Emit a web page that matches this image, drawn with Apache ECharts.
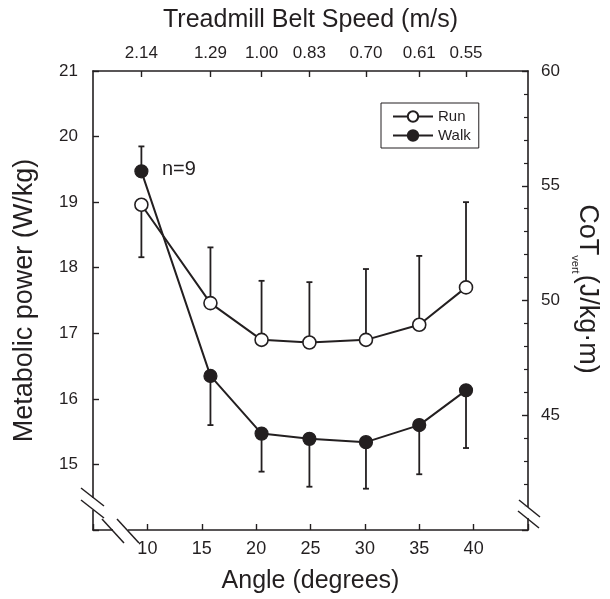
<!DOCTYPE html>
<html><head><meta charset="utf-8">
<script src="https://cdn.jsdelivr.net/npm/echarts@6/dist/echarts.min.js"></script>
<style>html,body{margin:0;padding:0;background:#fff}#c{width:610px;height:599px}</style>
</head><body><div id="c"></div>
<script>
const angles = [9.45, 15.8, 20.5, 24.9, 30.1, 35.0, 39.3];
const speedLabels = ['2.14','1.29','1.00','0.83','0.70','0.61','0.55'];
const runPower = [18.96, 17.46, 16.90, 16.86, 16.90, 17.13, 17.70];
const runSD = [0.80, 0.85, 0.90, 0.92, 1.08, 1.05, 1.30];
const runErrDir = [-1, 1, 1, 1, 1, 1, 1];
const walkPower = [19.47, 16.35, 15.47, 15.39, 15.34, 15.60, 16.13];
const walkSD = [0.38, 0.75, 0.58, 0.73, 0.71, 0.75, 0.88];
const walkErrDir = [1, -1, -1, -1, -1, -1, -1];
const bottomTicks = [10, 15, 20, 25, 30, 35, 40];
const leftTicks = [15, 16, 17, 18, 19, 20, 21];
const rightTicks = [45, 50, 55, 60];

const INK = '#231f20';
const FONT = '"Liberation Sans", Arial, sans-serif';

function errData(xs, ys, sd, dir) {
  return xs.map((x, i) => [x, ys[i], sd[i], dir[i]]);
}
function errRender(params, api) {
  const x = api.value(0), y = api.value(1), sd = api.value(2), d = api.value(3);
  const p0 = api.coord([x, y]);
  const p1 = api.coord([x, y + d * sd]);
  const cap = 3;
  return {
    type: 'group',
    children: [
      { type: 'line', shape: { x1: p0[0], y1: p0[1], x2: p1[0], y2: p1[1] }, style: { stroke: INK, lineWidth: 1.8 } },
      { type: 'line', shape: { x1: p1[0] - cap, y1: p1[1], x2: p1[0] + cap, y2: p1[1] }, style: { stroke: INK, lineWidth: 1.8 } }
    ]
  };
}
const near = (arr, v) => arr.findIndex(a => Math.abs(a - v) < 1e-6);

const chart = echarts.init(document.getElementById('c'), null, { renderer: 'canvas' });
chart.setOption({
  backgroundColor: '#fff',
  animation: false,
  textStyle: { fontFamily: FONT, color: INK },
  grid: { left: 93, right: 82, top: 71, bottom: 68 },
  legend: {
    data: ['Run', 'Walk'], orient: 'vertical', left: 381, top: 103,
    borderColor: INK, borderWidth: 1, padding: [6, 8, 5, 11],
    itemWidth: 40, itemHeight: 13, itemGap: 4,
    textStyle: { fontSize: 15, color: INK, fontFamily: FONT }
  },
  xAxis: [{
    type: 'value', position: 'bottom', min: 5, max: 45, interval: 5,
    axisLine: { show: true, onZero: false, lineStyle: { color: INK, width: 1.6 } },
    axisTick: { show: true, inside: true, length: 6, lineStyle: { color: INK, width: 1.4 } },
    axisLabel: { fontSize: 18, color: INK, margin: 10, fontFamily: FONT,
      formatter: v => bottomTicks.includes(v) ? String(v) : '' },
    splitLine: { show: false },
    name: 'Angle (degrees)', nameLocation: 'middle', nameGap: 39,
    nameTextStyle: { fontSize: 25, color: INK, fontFamily: FONT }
  }, {
    type: 'value', position: 'top', min: 5, max: 45,
    axisLine: { show: true, onZero: false, lineStyle: { color: INK, width: 1.6 } },
    axisTick: { show: true, inside: true, length: 6, customValues: angles, lineStyle: { color: INK, width: 1.4 } },
    axisLabel: { show: true, fontSize: 17, color: INK, margin: 9, fontFamily: FONT, customValues: angles,
      formatter: v => { const i = near(angles, v); return i >= 0 ? speedLabels[i] : ''; } },
    splitLine: { show: false },
    name: 'Treadmill Belt Speed (m/s)', nameLocation: 'middle', nameGap: 38,
    nameTextStyle: { fontSize: 25, color: INK, fontFamily: FONT }
  }],
  yAxis: [{
    type: 'value', position: 'left', min: 14, max: 21, interval: 1,
    axisLine: { show: true, onZero: false, lineStyle: { color: INK, width: 1.6 } },
    axisTick: { show: true, inside: true, length: 6, lineStyle: { color: INK, width: 1.4 } },
    axisLabel: { fontSize: 17, color: INK, margin: 15, fontFamily: FONT,
      formatter: v => leftTicks.includes(v) ? String(v) : '' },
    splitLine: { show: false },
    name: 'Metabolic power (W/kg)', nameLocation: 'middle', nameGap: 55, nameRotate: 90,
    nameTextStyle: { fontSize: 27, color: INK, fontFamily: FONT }
  }, {
    type: 'value', position: 'right', min: 40, max: 60, interval: 5,
    axisLine: { show: true, onZero: false, lineStyle: { color: INK, width: 1.6 } },
    axisTick: { show: true, inside: true, length: 6, lineStyle: { color: INK, width: 1.4 } },
    minorTick: { show: true, splitNumber: 5, length: 4, lineStyle: { color: INK, width: 1.2 } },
    axisLabel: { fontSize: 17, color: INK, margin: 13, fontFamily: FONT,
      formatter: v => rightTicks.includes(v) ? String(v) : '' },
    splitLine: { show: false }
  }],
  series: [
    { type: 'custom', name: 'runErr', xAxisIndex: 0, yAxisIndex: 0, z: 1,
      data: errData(angles, runPower, runSD, runErrDir), renderItem: errRender },
    { type: 'custom', name: 'walkErr', xAxisIndex: 0, yAxisIndex: 0, z: 1,
      data: errData(angles, walkPower, walkSD, walkErrDir), renderItem: errRender },
    { type: 'line', name: 'Walk', xAxisIndex: 0, yAxisIndex: 0, z: 3,
      data: angles.map((a, i) => [a, walkPower[i]]),
      symbol: 'circle', symbolSize: 13,
      lineStyle: { color: INK, width: 2 },
      itemStyle: { color: INK, borderColor: INK, borderWidth: 1.2 } },
    { type: 'line', name: 'Run', xAxisIndex: 0, yAxisIndex: 0, z: 4,
      data: angles.map((a, i) => [a, runPower[i]]),
      symbol: 'circle', symbolSize: 13,
      lineStyle: { color: INK, width: 2 },
      itemStyle: { color: '#fff', borderColor: INK, borderWidth: 1.6 } }
  ],
  graphic: [
    { type: 'text', left: 162, top: 159, z: 10,
      style: { text: 'n=9', fontSize: 20, fill: INK, fontFamily: FONT } },
    { type: 'text', x: 587, y: 289, rotation: -Math.PI / 2, z: 10,
      style: { text: '{a|CoT}{s|vert}{a|(J/kg·m)}', align: 'center', verticalAlign: 'middle',
        rich: { a: { fontSize: 27, fill: INK, fontFamily: FONT, verticalAlign: 'bottom' },
                s: { fontSize: 11, fill: INK, fontFamily: FONT, verticalAlign: 'bottom', padding: [0, 1, -4, 0] } } } },
    // left axis break
    { type: 'rect', shape: { x: 89, y: 498, width: 8, height: 12 }, style: { fill: '#fff' }, z: 20 },
    { type: 'line', shape: { x1: 81, y1: 488, x2: 104, y2: 506 }, style: { stroke: INK, lineWidth: 1.5 }, z: 21 },
    { type: 'line', shape: { x1: 81, y1: 500, x2: 104, y2: 518 }, style: { stroke: INK, lineWidth: 1.5 }, z: 21 },
    // bottom axis break
    { type: 'rect', shape: { x: 113, y: 527, width: 15, height: 8 }, style: { fill: '#fff' }, z: 20 },
    { type: 'line', shape: { x1: 102, y1: 519, x2: 124, y2: 543 }, style: { stroke: INK, lineWidth: 1.5 }, z: 21 },
    { type: 'line', shape: { x1: 117, y1: 519, x2: 139, y2: 543 }, style: { stroke: INK, lineWidth: 1.5 }, z: 21 },
    // right axis break
    { type: 'rect', shape: { x: 523, y: 507, width: 10, height: 11 }, style: { fill: '#fff' }, z: 20 },
    { type: 'line', shape: { x1: 519, y1: 500, x2: 540, y2: 517 }, style: { stroke: INK, lineWidth: 1.5 }, z: 21 },
    { type: 'line', shape: { x1: 518, y1: 511, x2: 539, y2: 528 }, style: { stroke: INK, lineWidth: 1.5 }, z: 21 }
  ]
});
</script></body></html>
